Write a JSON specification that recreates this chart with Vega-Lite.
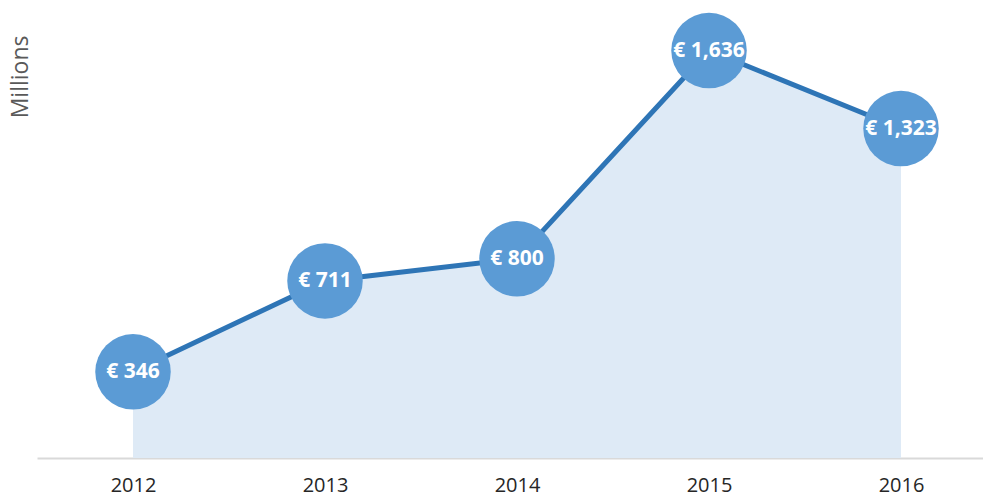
{
  "$schema": "https://vega.github.io/schema/vega-lite/v6.json",
  "width": 946,
  "height": 458,
  "autosize": {"type": "none"},
  "padding": {"left": 37, "top": 0, "right": 0, "bottom": 38},
  "background": "white",
  "config": {"view": {"stroke": null}, "font": "Open Sans"},
  "data": {
    "values": [
      {"year": 2012, "value": 346, "label": "€ 346"},
      {"year": 2013, "value": 711, "label": "€ 711"},
      {"year": 2014, "value": 800, "label": "€ 800"},
      {"year": 2015, "value": 1636, "label": "€ 1,636"},
      {"year": 2016, "value": 1323, "label": "€ 1,323"}
    ]
  },
  "encoding": {
    "x": {
      "field": "year",
      "type": "quantitative",
      "scale": {"domain": [2011.5, 2016.427], "nice": false, "zero": false},
      "axis": {
        "values": [2012, 2013, 2014, 2015, 2016],
        "format": "d",
        "title": null,
        "grid": false,
        "ticks": false,
        "domainColor": "#d9d9d9",
        "domainWidth": 2,
        "labelFontSize": 20,
        "labelColor": "#262626",
        "labelPadding": 17,
        "labelFont": "Open Sans"
      }
    },
    "y": {
      "field": "value",
      "type": "quantitative",
      "scale": {"domain": [0, 1839], "nice": false},
      "axis": {
        "title": "Millions",
        "domain": false,
        "ticks": false,
        "labels": false,
        "grid": false,
        "titleAnchor": "end",
        "titleAlign": "right",
        "titleAngle": -90,
        "titleX": -17,
        "titleY": 35,
        "titleBaseline": "middle",
        "titleFontSize": 23,
        "titleFontWeight": "normal",
        "titleColor": "#595959",
        "titleFont": "Open Sans"
      }
    }
  },
  "layer": [
    {"mark": {"type": "area", "color": "#deeaf6", "opacity": 1}},
    {"mark": {"type": "line", "color": "#2e75b6", "strokeWidth": 5}},
    {"mark": {"type": "circle", "color": "#5b9bd5", "opacity": 1, "size": 5700}},
    {
      "mark": {"type": "text", "color": "white", "fontWeight": "bold", "fontSize": 21, "font": "Open Sans", "baseline": "middle", "align": "center"},
      "encoding": {"text": {"field": "label"}}
    }
  ]
}
